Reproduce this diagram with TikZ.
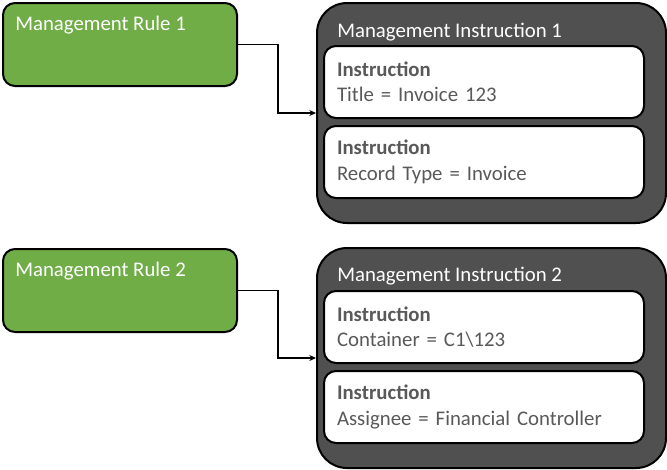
\documentclass[tikz,border=0pt]{standalone}
\usepackage{fontspec}
\setmainfont{Carlito}
\usetikzlibrary{arrows.meta,positioning,calc}
\definecolor{mGreen}{HTML}{70AD47}
\definecolor{mDark}{HTML}{505050}
\definecolor{mText}{HTML}{595959}

\begin{document}
\begin{tikzpicture}[x=0.75pt,y=-0.75pt,>=Stealth,
    font=\fontsize{15.6}{19}\selectfont,
    rulebox/.style={draw=black,fill=mGreen,line width=1.5pt,rounded corners=9pt,
      minimum width=175.5pt,minimum height=62.25pt,anchor=north west},
    groupbox/.style={draw=black,fill=mDark,line width=1.5pt,rounded corners=22.5pt,
      minimum width=261.75pt,minimum height=165pt,anchor=north west},
    instbox/.style={draw=black,fill=white,line width=1.5pt,rounded corners=9pt,
      minimum height=54pt,text width=220.5pt,inner xsep=9.75pt,align=left,text=mText},
    head/.style={white,anchor=base west,inner sep=0pt},
    link/.style={-{Stealth[length=5pt,width=4.5pt]},line width=1.4pt}]
  \useasboundingbox (0,0) rectangle (667,469);

  % Rule 1 -> Instruction 1
  \node[rulebox] (rule1) at (2,2) {};
  \node[head] (rule1txt) at ($(rule1.north west)+(13,28)$) {Management Rule 1};

  \node[groupbox] (grp1) at (316,2) {};
  \node[head] (grp1txt) at ($(grp1.north west)+(21,35)$) {Management Instruction 1};
  \node[instbox,anchor=north west] (inst1a) at ($(grp1.north west)+(7,43)$)
        {\textbf{Instruction}\\Title = Invoice 123};
  \node[instbox,below=4.5pt of inst1a] (inst1b)
        {\textbf{Instruction}\\Record Type = Invoice};

  \draw[link] (rule1.east) -- ++(40,0) |- (grp1.west);

  % Rule 2 -> Instruction 2
  \node[rulebox] (rule2) at (2,248) {};
  \node[head] (rule2txt) at ($(rule2.north west)+(13,28)$) {Management Rule 2};

  \node[groupbox] (grp2) at (316,247) {};
  \node[head] (grp2txt) at ($(grp2.north west)+(21,34)$) {Management Instruction 2};
  \node[instbox,anchor=north west] (inst2a) at ($(grp2.north west)+(7,43)$)
        {\textbf{Instruction}\\Container = C1\textbackslash 123};
  \node[instbox,below=4.5pt of inst2a] (inst2b)
        {\textbf{Instruction}\\Assignee = Financial Controller};

  \draw[link] (rule2.east) -- ++(40,0) |- (grp2.west);
\end{tikzpicture}
\end{document}
